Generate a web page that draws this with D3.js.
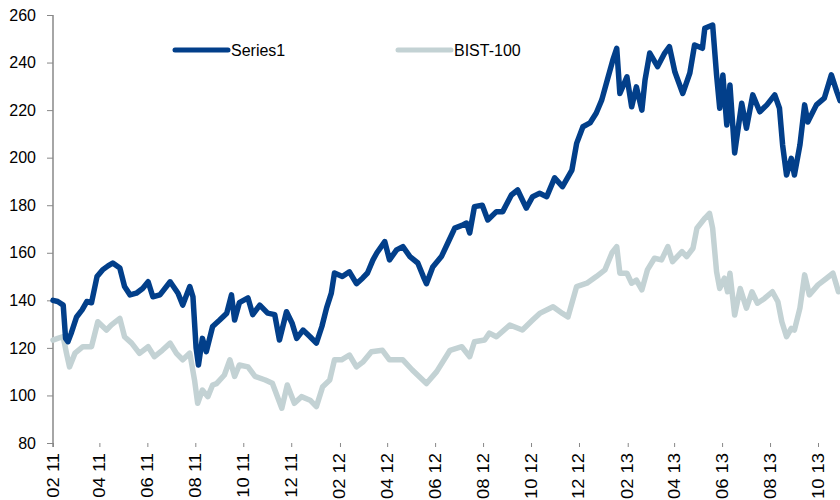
<!DOCTYPE html>
<html>
<head>
<meta charset="utf-8">
<script src="https://cdn.jsdelivr.net/npm/d3@7"></script>
<style>
  html, body { margin: 0; padding: 0; background: #fff; }
  svg { display: block; }
  text { font-family: "Liberation Sans", Arial, sans-serif; fill: #000; }
</style>
</head>
<body>
<svg id="chart" width="840" height="500"></svg>
<script>
const seriesNames = ["Series1", "BIST-100"];
const yTickValues = [80, 100, 120, 140, 160, 180, 200, 220, 240, 260];
const xTickStart = "2011-02-01";
const xTickEnd = "2013-10-01";

const s1Dates = ["2011-02-01","2011-02-07","2011-02-14","2011-02-17","2011-02-20","2011-02-24","2011-03-03","2011-03-10","2011-03-16","2011-03-22","2011-03-29","2011-04-05","2011-04-12","2011-04-18","2011-04-27","2011-05-03","2011-05-10","2011-05-18","2011-05-26","2011-06-02","2011-06-08","2011-06-17","2011-06-30","2011-07-10","2011-07-16","2011-07-25","2011-07-29","2011-08-02","2011-08-05","2011-08-10","2011-08-15","2011-08-23","2011-09-01","2011-09-10","2011-09-16","2011-09-20","2011-09-26","2011-10-07","2011-10-13","2011-10-22","2011-11-01","2011-11-10","2011-11-16","2011-11-25","2011-12-02","2011-12-08","2011-12-16","2011-12-25","2012-01-02","2012-01-09","2012-01-15","2012-01-21","2012-01-25","2012-02-04","2012-02-13","2012-02-22","2012-03-01","2012-03-07","2012-03-14","2012-03-19","2012-03-29","2012-04-04","2012-04-13","2012-04-21","2012-04-30","2012-05-10","2012-05-17","2012-05-21","2012-05-29","2012-06-09","2012-06-17","2012-06-26","2012-07-05","2012-07-11","2012-07-15","2012-07-21","2012-07-31","2012-08-07","2012-08-18","2012-08-26","2012-09-06","2012-09-14","2012-09-25","2012-10-03","2012-10-12","2012-10-21","2012-10-31","2012-11-10","2012-11-22","2012-11-28","2012-12-06","2012-12-15","2012-12-23","2012-12-30","2013-01-06","2013-01-13","2013-01-18","2013-01-22","2013-01-31","2013-02-06","2013-02-12","2013-02-19","2013-02-23","2013-03-01","2013-03-11","2013-03-20","2013-03-26","2013-04-02","2013-04-12","2013-04-21","2013-04-27","2013-05-07","2013-05-10","2013-05-20","2013-05-25","2013-05-29","2013-06-02","2013-06-07","2013-06-11","2013-06-17","2013-06-26","2013-07-02","2013-07-10","2013-07-19","2013-07-28","2013-08-07","2013-08-13","2013-08-17","2013-08-22","2013-08-28","2013-09-01","2013-09-08","2013-09-14","2013-09-18","2013-09-29","2013-10-09","2013-10-18","2013-10-25","2013-10-29"];
const s1Values = [140,139.5,138,124,122.6,126,133,136,139.5,139,150,152.8,154.5,155.7,153.6,145.8,142.3,143,145,147.8,141.5,142.3,147.8,143,138,145.8,141.5,120,112.8,124,118.4,129,131.7,134.6,142.3,131.7,139,141,134,138,134.6,134,123.3,135.2,130.5,124,127.5,124.7,122,129,136.8,143,151.5,150,152,147,149.4,151.5,157,160,164.7,157,161.2,162.6,158.4,155.7,150,147,154,158.4,164,170.4,171.5,172.5,168.3,179.4,180,173.8,177.3,177.3,184.3,186.4,178.8,183.6,185,183.6,191.5,187.8,194.8,206,213,214.6,218.8,224.3,232.7,241,246,227,234,221.4,229.8,220,232.7,244,238.3,244,246.7,236,227,235.6,247.4,246,254.4,255.8,234.8,220.8,234.8,213.7,230.6,202,222.9,212.4,226.4,219.3,222.2,226.4,220.8,205.3,192.7,199.7,192.7,205.3,222.2,215,222.2,225,234.8,227.7,224];

const bistDates = ["2011-02-01","2011-02-07","2011-02-14","2011-02-18","2011-02-22","2011-03-01","2011-03-11","2011-03-22","2011-03-30","2011-04-10","2011-04-16","2011-04-27","2011-05-03","2011-05-12","2011-05-22","2011-06-02","2011-06-10","2011-06-20","2011-06-30","2011-07-08","2011-07-16","2011-07-25","2011-07-31","2011-08-04","2011-08-10","2011-08-17","2011-08-23","2011-08-28","2011-09-07","2011-09-14","2011-09-20","2011-09-26","2011-10-07","2011-10-16","2011-10-29","2011-11-07","2011-11-19","2011-11-26","2011-12-05","2011-12-14","2011-12-25","2012-01-02","2012-01-10","2012-01-19","2012-01-25","2012-02-03","2012-02-13","2012-02-22","2012-03-01","2012-03-12","2012-03-26","2012-04-04","2012-04-21","2012-05-03","2012-05-21","2012-06-03","2012-06-20","2012-07-05","2012-07-15","2012-07-21","2012-08-03","2012-08-09","2012-08-18","2012-09-04","2012-09-20","2012-10-03","2012-10-12","2012-10-29","2012-11-10","2012-11-17","2012-11-28","2012-12-11","2012-12-23","2013-01-03","2013-01-12","2013-01-18","2013-01-22","2013-01-31","2013-02-06","2013-02-12","2013-02-19","2013-02-26","2013-03-07","2013-03-16","2013-03-24","2013-03-30","2013-04-11","2013-04-17","2013-04-25","2013-04-30","2013-05-10","2013-05-16","2013-05-20","2013-05-25","2013-05-29","2013-06-04","2013-06-08","2013-06-11","2013-06-17","2013-06-24","2013-07-02","2013-07-09","2013-07-16","2013-07-25","2013-08-04","2013-08-11","2013-08-16","2013-08-22","2013-08-28","2013-09-01","2013-09-08","2013-09-14","2013-09-20","2013-10-01","2013-10-12","2013-10-20","2013-10-27"];
const bistValues = [123.3,124,124.7,118,112,117.8,120.5,120.5,131,127.5,129.6,132.4,124.7,122,117.7,120.5,116.3,119,122,117.7,115,117.8,106.5,96.7,102.3,99.5,104.4,105,108.6,115,108,112.8,112,108,106.5,105.1,94.6,104.4,96.7,99.5,98,95.3,103.7,106.5,115,115,117,112,114,118.4,119,115,115,110.7,105,110,119,120.5,116.3,122.6,123.3,126.2,124.7,129.6,127.5,131.7,134.5,137.3,134.5,133,145.8,147.2,150,152.8,160,162.6,151.4,151.4,147.2,148.5,144.4,152.8,157.7,157,162.6,156.3,160.5,158.4,161.9,170.3,174.5,176.6,170.3,152,145,149.3,143.6,151.4,133.8,145,136.7,143.6,138.8,140.8,143.6,139.4,131,124.7,128.2,127.5,136.7,150.7,142.3,146.5,149.3,151.4,143.6];

const colors = { "Series1": "#023f8a", "BIST-100": "#c3d2d4" };

const parse = d3.timeParse("%Y-%m-%d");
const svg = d3.select("#chart");

const x = d3.scaleTime()
  .domain([parse(xTickStart), parse(xTickEnd)])
  .range([53, 818]);
const y = d3.scaleLinear().domain([80, 260]).range([443, 15]);

const s1 = s1Dates.map((d, i) => ({ date: parse(d), value: s1Values[i] }));
const bist = bistDates.map((d, i) => ({ date: parse(d), value: bistValues[i] }));

// Y axis
const yAxis = svg.append("g").attr("transform", "translate(53,0)")
  .call(d3.axisLeft(y).tickValues(yTickValues).tickSize(6).tickPadding(11).tickFormat(d3.format("d")));
yAxis.select(".domain").attr("stroke", "#888").attr("stroke-width", 1.5).attr("d", "M0,15V447");
yAxis.selectAll(".tick line").attr("stroke", "#888").attr("stroke-width", 1);
yAxis.selectAll(".tick text").attr("font-size", 16).attr("font-family", "Liberation Sans, Arial, sans-serif").attr("fill", "#000");

// X axis: every second month starting February 2011
const xTicks = d3.timeMonth.range(parse(xTickStart), d3.timeDay.offset(parse(xTickEnd), 1), 2);
const xAxis = svg.append("g").attr("transform", "translate(0,443)")
  .call(d3.axisBottom(x).tickValues(xTicks).tickSize(4).tickFormat(d3.timeFormat("%m %y")));
xAxis.select(".domain").remove();
xAxis.selectAll(".tick line").attr("stroke", "#888").attr("stroke-width", 1);
xAxis.selectAll(".tick text")
  .attr("font-size", 16)
  .attr("font-family", "Liberation Sans, Arial, sans-serif")
  .attr("fill", "#000")
  .attr("text-anchor", "end")
  .attr("dy", null)
  .attr("y", 0)
  .attr("transform", "translate(5,10) rotate(-90) scale(1.15,1)");

// Lines
const line = d3.line().x(d => x(d.date)).y(d => y(d.value)).curve(d3.curveLinear);
svg.append("path").datum(bist)
  .attr("fill", "none").attr("stroke", colors["BIST-100"]).attr("stroke-width", 5.5)
  .attr("stroke-linejoin", "round").attr("stroke-linecap", "round").attr("d", line);
svg.append("path").datum(s1)
  .attr("fill", "none").attr("stroke", colors["Series1"]).attr("stroke-width", 5.5)
  .attr("stroke-linejoin", "round").attr("stroke-linecap", "round").attr("d", line);

// Legend
const legendPos = [{ name: "Series1", x0: 175 }, { name: "BIST-100", x0: 398 }];
const lg = svg.append("g");
legendPos.forEach(p => {
  lg.append("line").attr("x1", p.x0).attr("x2", p.x0 + 53).attr("y1", 50).attr("y2", 50)
    .attr("stroke", colors[p.name]).attr("stroke-width", 5).attr("stroke-linecap", "round");
  lg.append("text").attr("x", p.x0 + 56).attr("y", 56).attr("font-size", 16).text(p.name);
});
</script>
</body>
</html>
